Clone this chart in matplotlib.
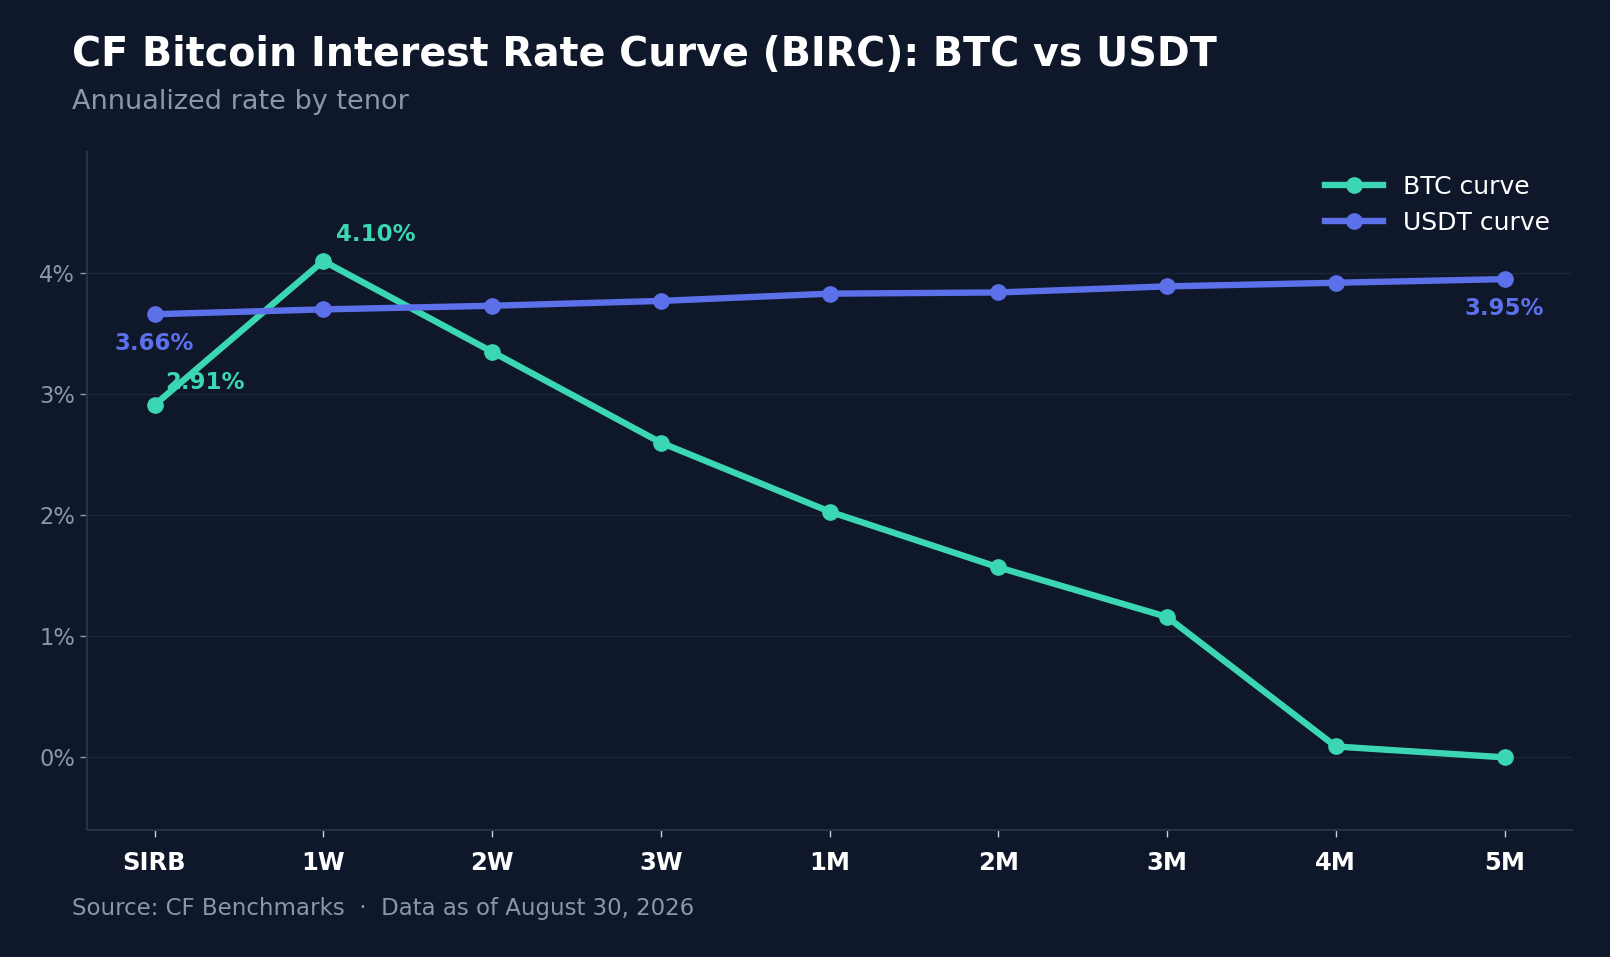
import numpy as np
import matplotlib
matplotlib.use("Agg")
import matplotlib.pyplot as plt
from matplotlib.ticker import FuncFormatter

# data
tenors = ["SIRB", "1W", "2W", "3W", "1M", "2M", "3M", "4M", "5M"]
btc_rates = [2.91, 4.10, 3.35, 2.60, 2.03, 1.57, 1.16, 0.09, 0.00]
usdt_rates = [3.66, 3.70, 3.73, 3.77, 3.83, 3.84, 3.89, 3.92, 3.95]

BG = "#0f172a"
BTC_COL = "#3bd6b3"
USDT_COL = "#5c70ea"
MUTED = "#8a96ae"
GRID = "#1a2537"
SPINE = "#263247"

fig = plt.figure(figsize=(16.1, 9.57), dpi=100, facecolor=BG)
ax = fig.add_axes([87 / 1610, 1 - 830 / 957, (1572 - 87) / 1610, (830 - 152) / 957])
ax.set_facecolor(BG)

x = np.arange(len(tenors))
ax.plot(x, btc_rates, color=BTC_COL, lw=4.6, marker="o", ms=11, label="BTC curve", zorder=3)
ax.plot(x, usdt_rates, color=USDT_COL, lw=4.6, marker="o", ms=11, label="USDT curve", zorder=3)

ax.set_xlim(-0.4, 8.4)
ax.set_ylim(-0.6, 5.0)
ax.set_xticks(x)
ax.set_xticklabels(tenors, fontsize=17.5, fontweight="bold")
ax.set_yticks([0, 1, 2, 3, 4])
ax.yaxis.set_major_formatter(FuncFormatter(lambda v, p: f"{v:.0f}%"))
ax.tick_params(axis="y", colors=MUTED, labelcolor=MUTED, labelsize=16.3, length=5, width=1)
ax.tick_params(axis="x", colors="#c8d0dc", labelcolor="white", length=5, width=1, pad=10)
ax.grid(axis="y", color=GRID, lw=1)
ax.set_axisbelow(True)
for s in ["top", "right"]:
    ax.spines[s].set_visible(False)
for s in ["left", "bottom"]:
    ax.spines[s].set_color(SPINE)
    ax.spines[s].set_linewidth(1.5)

# value labels
ax.annotate(f"{btc_rates[1]:.2f}%", (x[1], btc_rates[1]), xytext=(9, 11), textcoords="offset points",
            color=BTC_COL, fontsize=16.5, fontweight="bold", ha="left", va="bottom")
ax.annotate(f"{btc_rates[0]:.2f}%", (x[0], btc_rates[0]), xytext=(8, 8), textcoords="offset points",
            color=BTC_COL, fontsize=16.5, fontweight="bold", ha="left", va="bottom")
ax.annotate(f"{usdt_rates[0]:.2f}%", (x[0], usdt_rates[0]), xytext=(0, -13), textcoords="offset points",
            color=USDT_COL, fontsize=16.5, fontweight="bold", ha="center", va="top")
ax.annotate(f"{usdt_rates[-1]:.2f}%", (x[-1], usdt_rates[-1]), xytext=(0, -13), textcoords="offset points",
            color=USDT_COL, fontsize=16.5, fontweight="bold", ha="center", va="top")

leg = ax.legend(loc="upper right", frameon=False, fontsize=18, labelcolor="white",
                handlelength=2.3, borderaxespad=0.5)

fig.text(72 / 1610, 1 - 55 / 957, "CF Bitcoin Interest Rate Curve (BIRC): BTC vs USDT",
         color="white", fontsize=28.5, fontweight="bold", ha="left", va="center")
fig.text(72 / 1610, 1 - 102 / 957, "Annualized rate by tenor", color=MUTED, fontsize=19.5,
         ha="left", va="center")
fig.text(72 / 1610, 1 - 908 / 957, "Source: CF Benchmarks  \u00b7  Data as of August 30, 2026",
         color=MUTED, fontsize=16.5, ha="left", va="center")

fig.savefig("out.png", dpi=100, facecolor=BG)
